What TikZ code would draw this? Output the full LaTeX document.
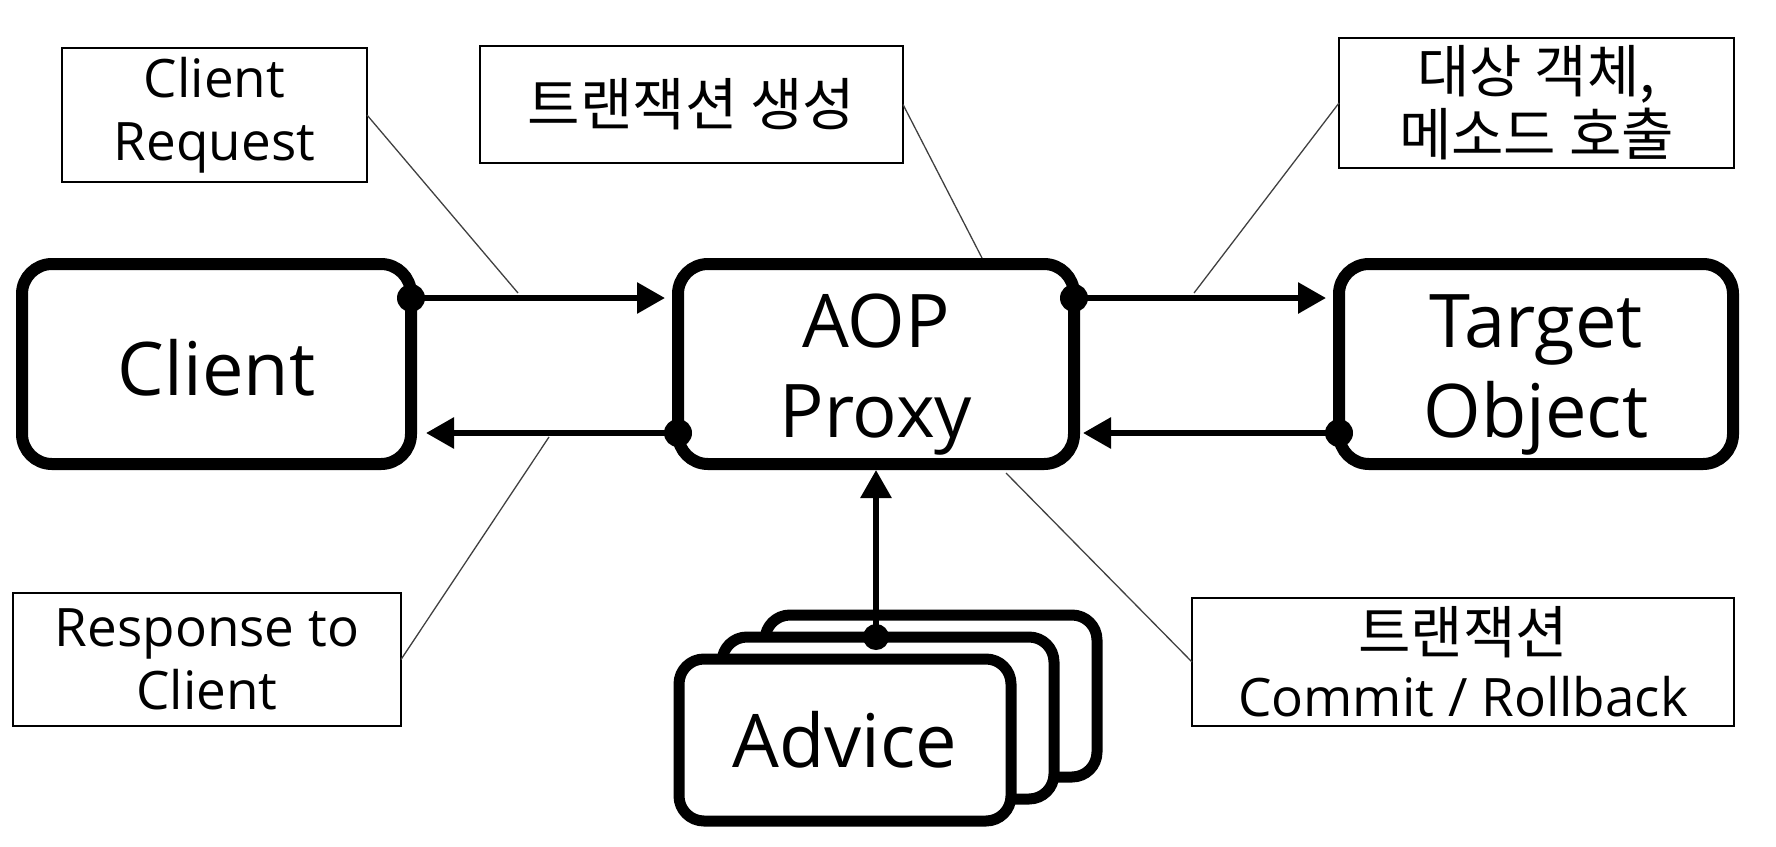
\documentclass[tikz,border=0pt]{standalone}
\usepackage{fontspec}
\setmainfont{Open Sans}
\newfontfamily\kr{Noto Sans CJK KR}
\usetikzlibrary{arrows.meta}
\begin{document}
\begin{tikzpicture}[x=1pt,y=-1pt,
  bigbox/.style={draw, line width=12pt, rounded corners=30pt, fill=white,
    minimum width=#1, minimum height=200pt, inner sep=0pt, outer sep=0pt},
  boxtext/.style={align=center, inner sep=0pt, font=\fontsize{74}{90}\selectfont},
  advbox/.style={draw, line width=11pt, rounded corners=25pt, fill=white,
    minimum width=332pt, minimum height=162pt, inner sep=0pt, outer sep=0pt,
    align=center, font=\fontsize{74}{90}\selectfont},
  note/.style={draw, line width=1.5pt, fill=white, inner sep=0pt, outer sep=0pt,
    align=center, font=\fontsize{53}{63}\selectfont},
  krnote/.style={note, font=\kr\fontsize{57}{63}\selectfont},
  conn/.style={line width=6pt, -{Triangle[length=28pt,width=30pt]}},
  callout/.style={line width=1.3pt, draw=black!75},
  dotmark/.style={fill=black}]
\useasboundingbox (0,0) rectangle (1776,846);

% callout end points
\coordinate (kreq) at (518,293);
\coordinate (ktx) at (982,258);
\coordinate (kcall) at (1194,293);
\coordinate (kresp) at (549,437);
\coordinate (kcommit) at (1006,473);

% notes
\node[note, minimum width=305pt, minimum height=134pt] (nreq) at (214.5,115) {Client\\Request};
\node[krnote, minimum width=423pt, minimum height=117pt] (ntx) at (691.5,104.5) {트랜잭션 생성};
\node[krnote, minimum width=395pt, minimum height=130pt] (ncall) at (1536.5,103) {대상 객체,\\메소드 호출};
\node[note, minimum width=388pt, minimum height=133pt] (nresp) at (207,659.5) {Response to\\Client};
\node[note, minimum width=542pt, minimum height=128pt] (ncommit) at (1463,662) {{\kr\fontsize{57}{63}\selectfont 트랜잭션}\\Commit / Rollback};

% callout lines
\draw[callout] (nreq.east) -- (kreq);
\draw[callout] (ntx.east) -- (ktx);
\draw[callout] (ncall.west) -- (kcall);
\draw[callout] (nresp.east) -- (kresp);
\draw[callout] (ncommit.west) -- (kcommit);

% main boxes
\node[bigbox=389pt, label={[boxtext, yshift=-4pt]center:Client}] (client) at (216.5,364) {};
\node[bigbox=396pt, label={[boxtext, yshift=-11pt]center:{AOP\\Proxy}}] (proxy) at (876,364) {};
\node[bigbox=394pt, label={[boxtext, yshift=-11pt]center:{Target\\Object}}] (target) at (1536,364) {};

% advice stack
\node[advbox] (adv3) at (931,696) {};
\node[advbox] (adv2) at (888,718) {};
\node[advbox] (adv1) at (845,740) {Advice};

% arrows
\draw[conn, shorten >=13pt] (client.east |- 0,298) -- (proxy.west |- 0,298);
\draw[conn, shorten >=13pt] (proxy.east |- 0,298) -- (target.west |- 0,298);
\draw[conn, shorten >=9pt] (target.west |- 0,433) -- (proxy.east |- 0,433);
\draw[conn, shorten >=15pt] (proxy.west |- 0,433) -- (client.east |- 0,433);
\draw[conn, shorten >=6pt] (proxy.south |- adv2.north) -- (proxy.south);

% dots
\fill[dotmark] (client.east |- 0,298) circle (14pt);
\fill[dotmark] (proxy.east |- 0,298) circle (14pt);
\fill[dotmark] (target.west |- 0,433) circle (14pt);
\fill[dotmark] (proxy.west |- 0,433) circle (14pt);
\fill[dotmark] (proxy.south |- adv2.north) circle (13pt);
\end{tikzpicture}
\end{document}
